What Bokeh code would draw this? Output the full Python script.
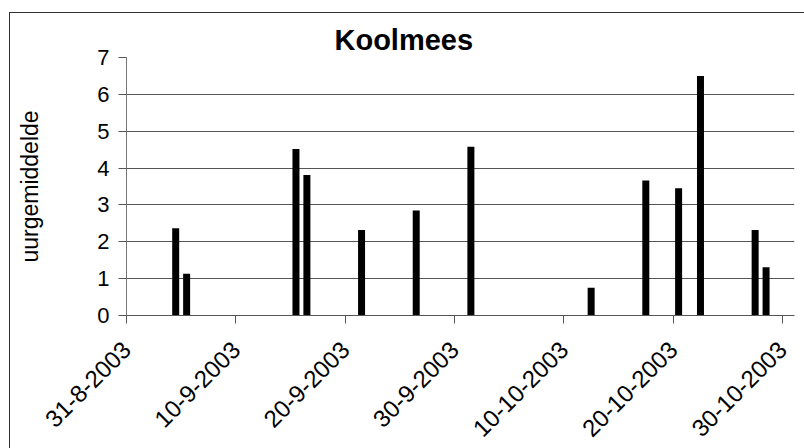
import math
import pandas as pd
from bokeh.plotting import figure
from bokeh.models import FixedTicker, Range1d, ColumnDataSource
from bokeh.embed import file_html
from bokeh.resources import INLINE

# ---- data ----
dates = ["2003-09-04", "2003-09-05", "2003-09-15", "2003-09-16", "2003-09-21",
         "2003-09-26", "2003-10-01", "2003-10-12", "2003-10-17", "2003-10-20",
         "2003-10-22", "2003-10-27", "2003-10-28"]
values = [2.37, 1.13, 4.52, 3.81, 2.32, 2.85, 4.58, 0.75, 3.66, 3.45, 6.50, 2.32, 1.31]

tick_dates = ["2003-08-31", "2003-09-10", "2003-09-20", "2003-09-30",
              "2003-10-10", "2003-10-20", "2003-10-30"]
tick_labels = ["31-8-2003", "10-9-2003", "20-9-2003", "30-9-2003",
               "10-10-2003", "20-10-2003", "30-10-2003"]
y_ticks = [0, 1, 2, 3, 4, 5, 6, 7]

title_text = "Koolmees"
y_label = "uurgemiddelde"

# ---- helpers ----
DAY_MS = 86400000.0
EPOCH = pd.Timestamp("1970-01-01")


def to_ms(d):
    return (pd.Timestamp(d) - EPOCH) / pd.Timedelta(milliseconds=1)


# Excel date axis: each column sits in the middle of its day
x_pos = [to_ms(d) + DAY_MS / 2 for d in dates]
tick_ms = [to_ms(d) for d in tick_dates]

src = ColumnDataSource(dict(x=x_pos, top=values))

FONT = "Liberation Sans"
X0 = to_ms(tick_dates[0])
X1 = X0 + 61.1 * DAY_MS

p = figure(width=794, height=435, x_axis_type="datetime",
           output_backend="svg", toolbar_location=None,
           x_range=Range1d(X0, X1), y_range=Range1d(0, 7),
           min_border_left=116, min_border_right=10,
           min_border_top=44, min_border_bottom=133)
p.margin = (13, 0, 0, 10)
p.styles = {"outline": "1px solid #333333", "outline-offset": "0px"}
p.background_fill_color = "white"
p.border_fill_color = "white"
p.outline_line_color = None

p.vbar(x="x", top="top", bottom=0, width=0.64 * DAY_MS, source=src,
       fill_color="black", line_color=None)

# title
p.title.text = title_text
p.title.text_font = FONT
p.title.text_font_size = "29px"
p.title.text_font_style = "bold"
p.title.text_color = "black"
p.title.align = "left"
p.title.offset = 208
p.title.standoff = 3

# x axis
xa = p.xaxis[0]
xa.ticker = FixedTicker(ticks=tick_ms)
xa.major_label_overrides = {t: l for t, l in zip(tick_ms, tick_labels)}
xa.major_label_orientation = math.pi / 4
xa.major_label_text_font = FONT
xa.major_label_text_font_size = "24px"
xa.major_label_text_color = "black"
xa.major_label_standoff = 22
xa.major_tick_out = 8
xa.major_tick_in = 0
xa.minor_tick_out = 0
xa.minor_tick_in = 0
xa.axis_line_color = "#555555"
xa.major_tick_line_color = "#555555"

# y axis
ya = p.yaxis[0]
ya.ticker = FixedTicker(ticks=y_ticks)
ya.major_label_text_font = FONT
ya.major_label_text_font_size = "22px"
ya.major_label_text_color = "black"
ya.major_label_standoff = 9
ya.major_tick_out = 8
ya.major_tick_in = 0
ya.minor_tick_out = 0
ya.minor_tick_in = 0
ya.axis_line_color = "#777777"
ya.major_tick_line_color = "#555555"
ya.axis_label = y_label
ya.axis_label_text_font = FONT
ya.axis_label_text_font_size = "23px"
ya.axis_label_text_font_style = "normal"
ya.axis_label_text_color = "black"
ya.axis_label_standoff = 51

p.xgrid.grid_line_color = None
p.ygrid.grid_line_color = "#555555"
p.ygrid.grid_line_width = 1

open("out.html", "w").write(file_html(p, INLINE))
